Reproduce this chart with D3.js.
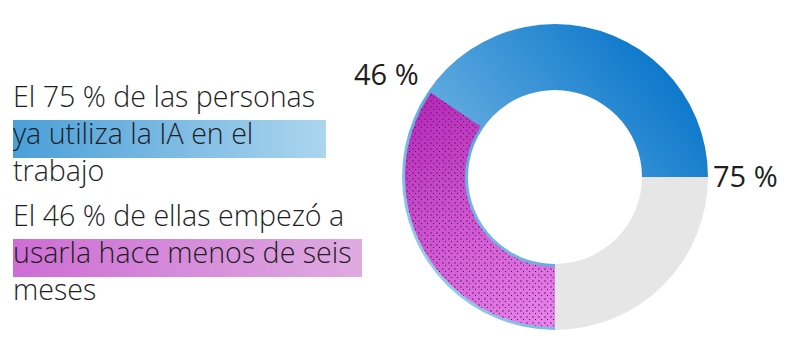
<!DOCTYPE html>
<html>
<head>
<meta charset="utf-8">
<script src="https://cdn.jsdelivr.net/npm/d3@7"></script>
<style>
  body { margin: 0; background: #fff; }
  text { font-family: "Open Sans", "Noto Sans", sans-serif; fill: #1e1e1e; }
</style>
</head>
<body>
<div id="chart"></div>
<script>
// data
const categories = ["Usa IA en el trabajo", "No usa IA"];
const shares = [75, 25];
const recentShare = 46;   // % of users who started < 6 months ago
const labels = ["75 %", "46 %"];
const paragraphs = [
    ["El 75 % de las personas", "ya utiliza la IA en el", "trabajo"],
    ["El 46 % de ellas empezó a", "usarla hace menos de seis", "meses"]
];
const highlightLine = 1;

const width = 787, height = 354;

const svg = d3.select("#chart").append("svg")
    .attr("width", width)
    .attr("height", height);

const defs = svg.append("defs");

// gradients in page coords
let blueGrad = defs.append("linearGradient")
    .attr("id", "blueGrad")
    .attr("gradientUnits", "userSpaceOnUse")
    .attr("x1", 410).attr("y1", 300).attr("x2", 700).attr("y2", 60);
blueGrad.append("stop").attr("offset", 0).attr("stop-color", "#a9d5f0");
blueGrad.append("stop").attr("offset", 0.35).attr("stop-color", "#64ade0");
blueGrad.append("stop").attr("offset", 1).attr("stop-color", "#0070c8");

let magGrad = defs.append("linearGradient")
    .attr("id", "magGrad")
    .attr("gradientUnits", "userSpaceOnUse")
    .attr("x1", 420).attr("y1", 100).attr("x2", 560).attr("y2", 330);
magGrad.append("stop").attr("offset", 0).attr("stop-color", "#b52ab8");
magGrad.append("stop").attr("offset", 1).attr("stop-color", "#ea86ec");

let dots = defs.append("pattern")
    .attr("id", "dots")
    .attr("patternUnits", "userSpaceOnUse")
    .attr("width", 6)
    .attr("height", 6);
dots.append("rect").attr("x", 1).attr("y", 1).attr("width", 2).attr("height", 2)
    .attr("fill", "rgba(110,20,120,0.45)");
dots.append("rect").attr("x", 4).attr("y", 4).attr("width", 1).attr("height", 1)
    .attr("fill", "rgba(0,0,0,0.75)");

let hlBlue = defs.append("linearGradient").attr("id", "hlBlue");
hlBlue.append("stop").attr("offset", 0).attr("stop-color", "#4a9fd9");
hlBlue.append("stop").attr("offset", 1).attr("stop-color", "#acd5ee");

let hlMag = defs.append("linearGradient").attr("id", "hlMag");
hlMag.append("stop").attr("offset", 0).attr("stop-color", "#cd6dd4");
hlMag.append("stop").attr("offset", 1).attr("stop-color", "#dfabe1");

// donut
const cx = 555, cy = 177, rOuter = 153, rInner = 87;

const pie = d3.pie().sort(null).startAngle(Math.PI).endAngle(3 * Math.PI);
const arcs = pie(shares);
const arc = d3.arc().innerRadius(rInner).outerRadius(rOuter);

svg.selectAll(".slice")
    .data(arcs)
    .enter().append("path")
    .attr("class", "slice")
    .attr("d", arc)
    .attr("transform", `translate(${cx},${cy})`)
    .attr("fill", (d, i) => i === 0 ? "url(#blueGrad)" : "#e6e6e6");

blueGrad.attr("gradientTransform", `translate(${-cx},${-cy})`);
magGrad.attr("gradientTransform", `translate(${-cx},${-cy})`);

// share of users that started recently, drawn over the blue arc
const subScale = d3.scaleLinear().domain([0, 100]).range([arcs[0].startAngle, arcs[0].endAngle]);
const subArc = d3.arc().innerRadius(rInner + 3).outerRadius(rOuter - 3)
    .startAngle(subScale(0)).endAngle(subScale(recentShare));

svg.append("path").attr("d", subArc()).attr("fill", "url(#magGrad)")
    .attr("transform", `translate(${cx},${cy})`);
svg.append("path").attr("d", subArc()).attr("fill", "url(#dots)")
    .attr("transform", `translate(${cx},${cy})`);

// percentage labels
svg.append("text")
    .attr("x", cx + rOuter + 5)
    .attr("y", cy + 10)
    .attr("font-size", 29)
    .text(labels[0]);
svg.append("text")
    .attr("x", 354)
    .attr("y", 85)
    .attr("font-size", 29)
    .text(labels[1]);

// left side text
const paraTop = [107, 226];
const lineH = 37;
const hlFills = ["url(#hlBlue)", "url(#hlMag)"];
const hlWidths = [313, 349];

paragraphs.forEach((lines, p) => {
    svg.append("rect")
        .attr("x", 13)
        .attr("y", paraTop[p] + lineH * highlightLine - 24)
        .attr("width", hlWidths[p])
        .attr("height", 38)
        .attr("fill", hlFills[p]);
    lines.forEach((t, i) => {
        svg.append("text")
            .attr("x", 13)
            .attr("y", paraTop[p] + lineH * i)
            .attr("font-size", 28.6)
            .attr("font-weight", 300)
            .text(t);
    });
});
</script>
</body>
</html>
